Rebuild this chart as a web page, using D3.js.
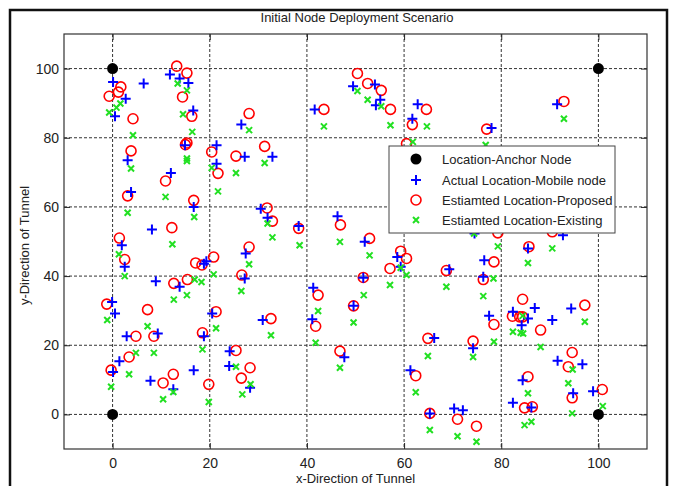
<!DOCTYPE html>
<html>
<head>
<meta charset="utf-8">
<script src="https://cdn.jsdelivr.net/npm/d3@7"></script>
<style>
  body { margin: 0; background: #fff; }
  text { font-family: "Liberation Sans", Arial, sans-serif; fill: #222; }
</style>
</head>
<body>
<div id="container"></div>
<script>
/* CONSTANTS AND GLOBALS */
const width = 674,
  height = 486,
  margin = { top: 34, bottom: 37, left: 64, right: 27 };

const xTicks = [0, 20, 40, 60, 80, 100];
const yTicks = [0, 20, 40, 60, 80, 100];

const legendLabels = [
  "Location-Anchor Node",
  "Actual Location-Mobile node",
  "Estiamted Location-Proposed",
  "Estiamted Location-Existing"
];

// anchor nodes at the corners
const anchors = [[0, 0], [0, 100], [100, 0], [100, 100]];

// actual location of mobile nodes (blue +)
const actual = [
  [0.1, 96.1], [0.5, 86.2], [2.7, 91.3], [6.4, 95.7], [11.8, 98.3], [13.8, 97.1],
  [15.6, 95.8], [16.6, 87.9], [14.9, 77.8], [3.1, 73.5], [3.8, 64.3], [12.0, 69.8],
  [16.7, 60.0], [21.4, 77.8], [21.4, 72.5], [8.1, 53.5], [26.5, 83.8], [1.9, 48.9],
  [2.5, 42.7], [8.9, 38.5], [13.8, 36.9], [18.8, 43.6], [19.3, 44.3], [-0.1, 32.5],
  [0.5, 29.2], [2.9, 22.6], [9.3, 23.4], [20.5, 29.2], [18.8, 22.6], [1.4, 15.4],
  [0.1, 12.3], [7.8, 9.7], [16.7, 12.8], [12.5, 7.3], [24.1, 18.3], [24.0, 14.0],
  [27.2, 74.5], [32.9, 74.5], [30.5, 59.5], [31.9, 56.9], [38.3, 54.5], [41.6, 88.2],
  [49.5, 94.9], [54.0, 95.4], [55.1, 91.0], [54.2, 89.4], [62.8, 89.7], [61.7, 85.5],
  [46.3, 57.3], [27.4, 46.5], [27.2, 39.3], [30.9, 27.3], [28.3, 7.7], [41.3, 36.6],
  [41.1, 27.5], [51.9, 49.9], [51.6, 39.5], [49.6, 31.4], [47.7, 16.5], [58.6, 45.5],
  [59.3, 42.7], [61.3, 12.8], [66.2, 22.1], [65.3, 0.3], [69.3, 42.0], [91.5, 89.7],
  [78.0, 82.8], [74.5, 52.3], [92.7, 51.8], [85.5, 48.0], [76.5, 44.6], [76.3, 39.8],
  [77.5, 28.5], [74.2, 19.1], [82.4, 29.7], [86.9, 30.8], [85.5, 27.7], [84.2, 25.8],
  [90.5, 27.3], [94.4, 30.6], [91.6, 15.5], [96.7, 14.5], [84.4, 9.9], [94.8, 6.1],
  [98.9, 6.7], [82.4, 3.4], [86.2, 2.0], [70.3, 1.7], [72.1, 1.2]
];

// estimated location, proposed method (red o)
const proposed = [
  [-0.7, 92.0], [1.2, 93.2], [1.7, 94.7], [4.2, 85.5], [3.8, 76.2], [3.1, 63.2],
  [13.2, 100.7], [15.3, 98.7], [14.4, 91.8], [16.3, 86.2], [15.3, 78.5], [15.0, 78.0],
  [10.9, 67.5], [16.7, 61.9], [20.4, 75.9], [21.7, 69.7], [25.4, 74.7], [12.2, 54.0],
  [1.4, 51.0], [2.5, 44.8], [-1.2, 31.9], [7.2, 30.3], [12.6, 37.9], [15.4, 39.0],
  [17.1, 43.8], [18.4, 43.2], [20.8, 45.5], [21.3, 29.7], [18.5, 23.6], [4.8, 22.6],
  [8.5, 22.6], [3.4, 16.6], [-0.3, 12.8], [10.4, 9.1], [12.5, 11.6], [19.8, 8.7],
  [25.4, 18.5], [26.6, 40.3], [26.5, 10.5], [28.1, 87.0], [31.3, 77.5], [31.8, 59.7],
  [32.9, 55.9], [38.3, 53.8], [43.5, 88.2], [50.4, 98.6], [52.5, 95.7], [55.3, 93.7],
  [57.2, 88.2], [64.6, 88.2], [61.7, 83.8], [46.9, 54.8], [28.1, 48.4], [32.6, 27.7],
  [28.3, 13.5], [42.3, 34.5], [41.8, 25.5], [52.9, 50.9], [51.6, 39.6], [49.6, 31.4],
  [46.8, 18.3], [57.1, 42.2], [59.3, 47.2], [60.5, 45.1], [62.4, 11.2], [64.9, 22.0],
  [65.3, 0.3], [68.7, 41.6], [92.9, 90.5], [77.0, 82.5], [78.5, 44.1], [76.3, 39.0],
  [85.7, 48.5], [84.4, 33.3], [82.3, 28.4], [83.8, 28.2], [84.4, 28.2], [78.5, 26.0],
  [88.1, 24.4], [74.2, 21.2], [97.2, 31.6], [94.6, 17.9], [93.8, 13.8], [85.5, 10.9],
  [94.6, 4.8], [100.8, 7.2], [84.8, 1.9], [86.4, 2.2], [71.0, -1.4], [74.9, -3.4],
  [90.5, 52.8], [79.3, 52.5], [60.5, 78.3]
];

// estimated location, existing method (green x)
const existing = [
  [-0.7, 87.3], [0.8, 88.7], [1.6, 89.9], [4.2, 80.7], [3.8, 71.1], [3.1, 58.3],
  [13.4, 95.7], [15.3, 93.7], [14.5, 86.8], [16.4, 81.7], [15.3, 74.0], [15.3, 73.3],
  [10.9, 62.9], [16.8, 57.1], [20.4, 71.3], [21.7, 64.5], [25.4, 69.8], [1.3, 46.3],
  [2.5, 40.0], [12.3, 49.2], [-1.1, 27.3], [7.2, 25.5], [12.6, 33.2], [15.3, 34.5],
  [16.9, 39.0], [18.3, 38.3], [20.8, 40.5], [21.3, 24.9], [18.5, 18.8], [4.8, 17.8],
  [8.5, 17.8], [3.4, 11.6], [-0.3, 8.0], [10.4, 4.4], [12.5, 6.5], [19.8, 3.6],
  [25.4, 13.8], [26.5, 35.7], [28.1, 82.2], [31.3, 72.7], [31.9, 55.2], [43.5, 83.3],
  [50.4, 93.5], [52.5, 91.0], [55.3, 89.1], [57.2, 83.6], [64.7, 83.3], [61.8, 78.8],
  [32.9, 51.2], [38.5, 48.9], [46.8, 49.9], [28.1, 43.4], [32.6, 22.9], [28.4, 8.7],
  [26.7, 5.8], [42.3, 29.9], [41.8, 20.7], [52.9, 46.0], [51.7, 34.5], [49.6, 26.6],
  [46.8, 13.5], [57.1, 37.4], [59.3, 42.4], [60.5, 40.3], [62.4, 6.4], [64.9, 16.9],
  [65.3, -4.5], [68.7, 36.9], [92.9, 85.5], [76.8, 77.9], [79.3, 48.6], [90.5, 48.0],
  [85.5, 43.8], [78.4, 39.3], [76.3, 34.2], [84.4, 28.5], [82.4, 23.9], [84.0, 23.6],
  [84.5, 23.4], [97.2, 26.8], [78.5, 21.0], [88.1, 19.5], [74.2, 16.6], [94.7, 13.0],
  [93.8, 9.0], [85.5, 6.1], [94.6, 0.3], [100.9, 2.4], [84.8, -3.1], [86.2, -2.1],
  [71.0, -6.3], [74.9, -7.9], [74.4, 52.3]
];

const BLUE = "#0000ff", RED = "#ff0000", GREEN = "#22e022";

const svg = d3.select("#container")
  .append("svg")
  .attr("width", width)
  .attr("height", height);

// figure border
svg.append("rect")
  .attr("x", 10).attr("y", 10)
  .attr("width", 657).attr("height", 490)
  .attr("fill", "white")
  .attr("stroke", "#111")
  .attr("stroke-width", 2.5);

const xScale = d3.scaleLinear()
  .domain([-10, 110])
  .range([margin.left, width - margin.right]);

const yScale = d3.scaleLinear()
  .domain([-10, 110])
  .range([height - margin.bottom, margin.top]);

// grid
const grid = svg.append("g")
  .attr("stroke", "#333")
  .attr("stroke-width", 1)
  .attr("stroke-dasharray", "3,2");

grid.selectAll(".vgrid")
  .data(xTicks)
  .join("line")
  .attr("class", "vgrid")
  .attr("x1", d => xScale(d)).attr("x2", d => xScale(d))
  .attr("y1", margin.top).attr("y2", height - margin.bottom);

grid.selectAll(".hgrid")
  .data(yTicks)
  .join("line")
  .attr("class", "hgrid")
  .attr("y1", d => yScale(d)).attr("y2", d => yScale(d))
  .attr("x1", margin.left).attr("x2", width - margin.right);

// AXES
const xAxis = svg.append("g")
  .attr("transform", `translate(0,${height - margin.bottom})`)
  .call(d3.axisBottom(xScale).tickValues(xTicks).tickSizeInner(-6).tickSizeOuter(0).tickPadding(9));

const yAxis = svg.append("g")
  .attr("transform", `translate(${margin.left},0)`)
  .call(d3.axisLeft(yScale).tickValues(yTicks).tickSizeInner(-6).tickSizeOuter(0).tickPadding(5));

svg.append("g")
  .attr("transform", `translate(0,${margin.top})`)
  .call(d3.axisTop(xScale).tickValues(xTicks).tickSizeInner(-6).tickSizeOuter(0).tickFormat(""));

svg.append("g")
  .attr("transform", `translate(${width - margin.right},0)`)
  .call(d3.axisRight(yScale).tickValues(yTicks).tickSizeInner(-6).tickSizeOuter(0).tickFormat(""));

svg.selectAll(".domain").remove();
svg.selectAll(".tick line").attr("stroke", "#222");
svg.selectAll(".tick text")
  .style("font-size", "14px")
  .style("font-family", "'Liberation Sans', Arial, sans-serif")
  .attr("fill", "#222");

// plot frame
svg.append("rect")
  .attr("x", margin.left).attr("y", margin.top)
  .attr("width", width - margin.left - margin.right)
  .attr("height", height - margin.top - margin.bottom)
  .attr("fill", "none")
  .attr("stroke", "#333")
  .attr("stroke-width", 1.2);

// MARKS
const plusPath = "M-5,0H5M0,-5V5";
const crossPath = "M-3,-3L3,3M3,-3L-3,3";

svg.append("g").selectAll("circle")
  .data(proposed)
  .join("circle")
  .attr("cx", d => xScale(d[0]))
  .attr("cy", d => yScale(d[1]))
  .attr("r", 5)
  .attr("fill", "none")
  .attr("stroke", RED)
  .attr("stroke-width", 1.6);

svg.append("g").selectAll("path")
  .data(actual)
  .join("path")
  .attr("d", plusPath)
  .attr("transform", d => `translate(${xScale(d[0])},${yScale(d[1])})`)
  .attr("stroke", BLUE)
  .attr("stroke-width", 2);

svg.append("g").selectAll("path")
  .data(existing)
  .join("path")
  .attr("d", crossPath)
  .attr("transform", d => `translate(${xScale(d[0])},${yScale(d[1])})`)
  .attr("stroke", GREEN)
  .attr("stroke-width", 2);

svg.append("g").selectAll("circle")
  .data(anchors)
  .join("circle")
  .attr("cx", d => xScale(d[0]))
  .attr("cy", d => yScale(d[1]))
  .attr("r", 5.5)
  .attr("fill", "black");

// TITLES
svg.append("text")
  .attr("x", 357).attr("y", 22)
  .attr("text-anchor", "middle")
  .style("font-size", "13px")
  .text("Initial Node Deployment Scenario");

svg.append("text")
  .attr("x", xScale(50)).attr("y", 483)
  .attr("text-anchor", "middle")
  .style("font-size", "13px")
  .text("x-Direction of Tunnel");

svg.append("text")
  .attr("transform", `translate(29,${yScale(50) + 4}) rotate(-90)`)
  .attr("text-anchor", "middle")
  .style("font-size", "13px")
  .text("y-Direction of Tunnel");

// LEGEND
const lg = svg.append("g").attr("transform", "translate(389,146)");
lg.append("rect")
  .attr("width", 226).attr("height", 87)
  .attr("fill", "white")
  .attr("stroke", "#444")
  .attr("stroke-width", 1);

const rowY = [13, 34, 54, 74];
const rows = lg.selectAll(".row")
  .data(legendLabels)
  .join("g")
  .attr("class", "row")
  .attr("transform", (d, i) => `translate(27,${rowY[i]})`);

rows.each(function(d, i) {
  const g = d3.select(this);
  if (i === 0) g.append("circle").attr("r", 5.5).attr("fill", "black");
  if (i === 1) g.append("path").attr("d", plusPath).attr("stroke", BLUE).attr("stroke-width", 2);
  if (i === 2) g.append("circle").attr("r", 5).attr("fill", "none").attr("stroke", RED).attr("stroke-width", 1.6);
  if (i === 3) g.append("path").attr("d", crossPath).attr("stroke", GREEN).attr("stroke-width", 2);
});

rows.append("text")
  .attr("x", 26).attr("dy", "0.35em")
  .style("font-size", "13px")
  .text(d => d);
</script>
</body>
</html>
